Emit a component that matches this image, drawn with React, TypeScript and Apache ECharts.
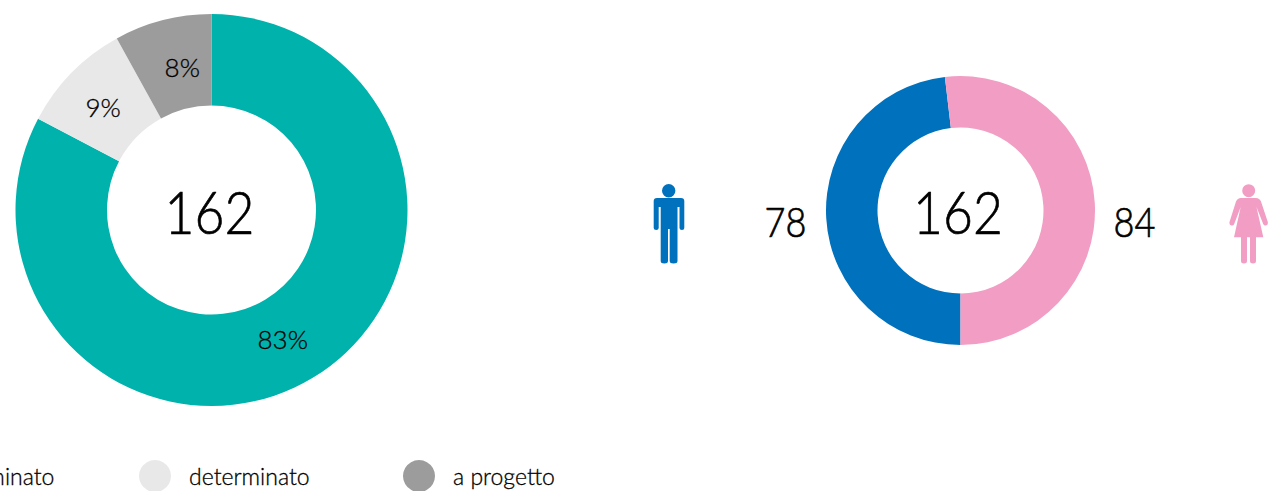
import React, { useEffect, useRef } from "react";
import * as echarts from "echarts";

const contractNames = ["indeterminato", "determinato", "a progetto"];
const contractValues = [134, 15, 13];
const contractColors = ["#00B2AC", "#E8E8E8", "#9C9C9C"];
const genderNames = ["uomini", "donne"];
const genderValues = [78, 84];
const genderColors = ["#0071BC", "#F29EC4"];
const totalLabel = "162";

const FONT = "Lato";

const manPath =
  "M657 198 L681 198 Q684.3 198 684.3 201 L684.3 228 Q684.3 230 682 230 Q679.5 230 679.5 228 L679.5 207 L677.5 207 L677.5 261 Q677.5 263.5 673.6 263.5 Q669.7 263.5 669.7 261 L669.7 229 L668 229 L668 261 Q668 263.5 664.4 263.5 Q660.7 263.5 660.7 261 L660.7 207 L658.7 207 L658.7 228 Q658.7 230 656.2 230 Q653.7 230 653.7 228 L653.7 201 Q653.7 198 657 198 Z M662 190.7 A6.7 6.7 0 1 1 675.4 190.7 A6.7 6.7 0 1 1 662 190.7 Z";
const womanPath =
  "M1241 198 L1256 198 Q1259.5 198 1261 201.5 L1267.8 222 Q1268.3 225 1266 225.5 Q1264 226 1263.2 224 L1256.5 207 L1263.3 237.3 L1256 237.3 L1256 261 Q1256 263.5 1253 263.5 Q1250 263.5 1250 261 L1250 237.3 L1247 237.3 L1247 261 Q1247 263.5 1244 263.5 Q1241 263.5 1241 261 L1241 237.3 L1234 237.3 L1240.7 207 L1234.2 224 Q1233.4 226 1231.4 225.5 Q1229 225 1229.5 222 L1236 201.5 Q1237.5 198 1241 198 Z M1242.2 190.7 A6.5 6.5 0 1 1 1255.2 190.7 A6.5 6.5 0 1 1 1242.2 190.7 Z";

echarts.graphic.registerShape("manIcon", echarts.graphic.extendPath(manPath, {}) as any);
echarts.graphic.registerShape("womanIcon", echarts.graphic.extendPath(womanPath, {}) as any);

const legendLefts = [-134, 139, 403];
const labelOffsets = [[-8, -2], [1, 4], [9, 5]];

export default function App() {
  const ref = useRef<HTMLDivElement>(null);
  useEffect(() => {
    document.body.style.margin = "0";
    const chart = echarts.init(ref.current!, null, { renderer: "svg" });
    const bigText = (text: string, x: number, y: number, size: number) => ({
      type: "text",
      x,
      y,
      scaleX: 0.86,
      style: {
        text,
        x: 0,
        y: 0,
        fontFamily: FONT,
        fontWeight: 300,
        fontSize: size,
        fill: "#000",
        stroke: "#000",
        lineWidth: 0.7,
        align: "center",
        verticalAlign: "middle",
      },
    });
    chart.setOption({
      animation: false,
      legend: contractNames.map((name, i) => ({
        data: [name],
        left: legendLefts[i],
        top: 460,
        padding: 0,
        icon: "circle",
        itemWidth: 32,
        itemHeight: 32,
        selectedMode: false,
        textStyle: {
          fontFamily: FONT,
          fontWeight: 300,
          fontSize: 23,
          color: "#000",
          textBorderColor: "#000",
          textBorderWidth: 0.3,
          padding: [0, 0, 4, 13],
        },
      })),
      series: [
        {
          type: "pie",
          center: [211.5, 210],
          radius: [104.5, 196],
          startAngle: 90,
          silent: true,
          label: {
            show: true,
            position: "inside",
            formatter: (p: any) => Math.round(p.percent) + "%",
            fontFamily: FONT,
            fontWeight: 300,
            fontSize: 26,
            color: "#000",
            textBorderColor: "#000",
            textBorderWidth: 0.3,
          },
          labelLine: { show: false },
          data: contractNames.map((name, i) => ({
            name,
            value: contractValues[i],
            itemStyle: { color: contractColors[i] },
            label: { offset: labelOffsets[i] },
          })),
        },
        {
          type: "pie",
          center: [960.5, 210.5],
          radius: [83, 134.5],
          startAngle: 270,
          silent: true,
          label: { show: false },
          labelLine: { show: false },
          data: genderNames.map((name, i) => ({
            name,
            value: genderValues[i],
            itemStyle: { color: genderColors[i] },
          })),
        },
      ],
      graphic: [
        bigText(totalLabel, 209.5, 210.5, 60),
        bigText(totalLabel, 958, 210.5, 60),
        bigText(String(genderValues[0]), 785.5, 220, 42),
        bigText(String(genderValues[1]), 1134.5, 220, 42),
        { type: "manIcon", x: 0, y: 0, style: { fill: genderColors[0] } },
        { type: "womanIcon", x: 0, y: 0, style: { fill: genderColors[1] } },
      ],
    });
    return () => chart.dispose();
  }, []);
  return <div ref={ref} style={{ width: 1269, height: 491 }} />;
}
